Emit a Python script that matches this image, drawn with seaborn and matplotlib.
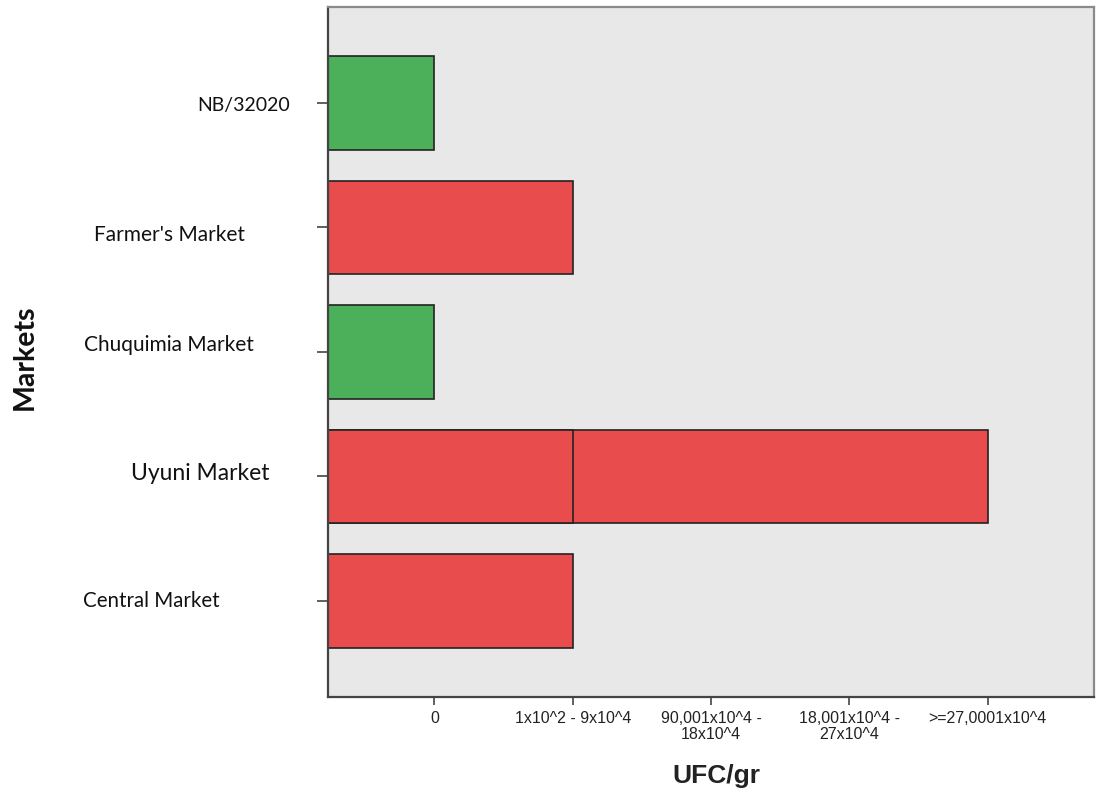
import matplotlib
matplotlib.use("Agg")
import matplotlib.pyplot as plt
import seaborn as sns
import pandas as pd

# ---- data ----
markets = ["NB/32020", "Farmer's Market", "Chuquimia Market", "Uyuni Market", "Central Market"]
levels = [0, 1, 0, 4, 1]            # ordinal UFC/gr class reached
inner_break = [None, None, None, 1, None]  # Uyuni bar split at class 1
status = ["ok", "high", "ok", "high", "high"]
tick_labels = ["0", "1x10^2 - 9x10^4", "90,001x10^4 -\n18x10^4",
               "18,001x10^4 -\n27x10^4", ">=27,0001x10^4"]
x_title = "UFC/gr"
y_title = "Markets"

# ---- style ----
BASE = 0.77  # bars start at the left edge of the frame, 0.77 class-widths before "0"
colors = {"ok": "#4caf5a", "high": "#e84c4c"}

sns.set_theme(style="white")
plt.rcParams["font.family"] = ["Lato", "DejaVu Sans"]

fig = plt.figure(figsize=(10.97, 7.91), dpi=100)
ax = fig.add_axes([0.299, 0.119, 0.9973 - 0.299, 0.991 - 0.119])
ax.set_facecolor("#e8e8e8")

df = pd.DataFrame({"market": markets,
                   "w": [lv + BASE for lv in levels],
                   "status": status})
sns.barplot(data=df, x="w", y="market", hue="status", palette=colors,
            orient="h", order=markets, width=0.75, dodge=False, saturation=1,
            edgecolor="#222222", linewidth=1.2, legend=False, ax=ax)

# inner segment of split bars (draws the divider line)
split = [(m, b + BASE, s) for m, b, s in zip(markets, inner_break, status) if b is not None]
if split:
    df2 = pd.DataFrame(split, columns=["market", "w", "status"])
    sns.barplot(data=df2, x="w", y="market", hue="status", palette=colors,
                orient="h", order=markets, width=0.75, dodge=False, saturation=1,
                edgecolor="#222222", linewidth=1.2, legend=False, ax=ax)

ax.set_xlim(0, 4 + 2 * BASE)
ax.set_ylim(len(markets) - 1 + BASE, -BASE)

ax.set_xticks([i + BASE for i in range(len(tick_labels))])
ax.set_xticklabels(tick_labels, fontsize=11.5, family="Liberation Sans",
                   color="#222222", linespacing=1.1)
ax.tick_params(axis="x", bottom=True, length=6, width=1.2, color="#444444", pad=4)

ax.set_yticks(range(len(markets)))
ax.set_yticklabels([""] * len(markets))
ax.tick_params(axis="y", left=True, length=8, width=1.2, color="#444444")

for side in ["left", "bottom"]:
    ax.spines[side].set_color("#444444")
    ax.spines[side].set_linewidth(1.6)
for side in ["top", "right"]:
    ax.spines[side].set_color("#8a8a8a")
    ax.spines[side].set_linewidth(1.6)

ax.set_xlabel("")
ax.set_ylabel("")

# category labels, placed as in the original figure
W, H = 1097, 791
label_pos = [(290, 106, "right", 14), (94, 235, "left", 15), (84, 345, "left", 15),
             (131, 474, "left", 16.5), (83, 601, "left", 14.8)]
for name, (px, py, ha, fs) in zip(markets, label_pos):
    fig.text(px / W, 1 - py / H, name, ha=ha, va="center", fontsize=fs, color="#111111")

fig.text(716 / W, 1 - 776 / H, x_title, ha="center", va="center",
         fontsize=19, fontweight="bold", family="Liberation Sans", color="#222222")
fig.text(25 / W, 1 - 357 / H, y_title, ha="center", va="center", rotation=90,
         fontsize=20.5, fontweight="bold", color="#111111")

fig.savefig("out.png", dpi=100, facecolor="white")
